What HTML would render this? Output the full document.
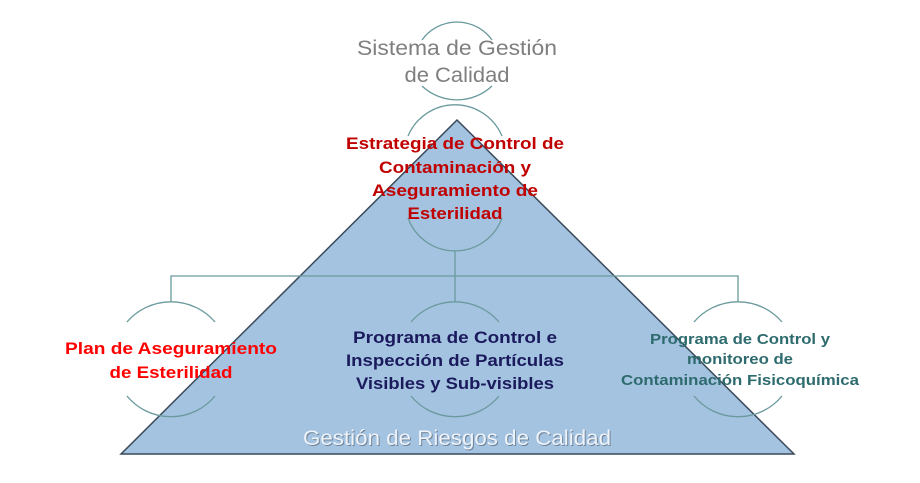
<!DOCTYPE html>
<html><head><meta charset="utf-8"><style>html,body{margin:0;padding:0;background:#fff}svg{display:block}</style></head><body>
<svg width="920" height="483" viewBox="0 0 920 483" xmlns="http://www.w3.org/2000/svg" font-family="'Liberation Sans', sans-serif">
<rect width="920" height="483" fill="#fff"/>
<polygon points="457,120 121,454 794,454" fill="#a4c3e1" stroke="#3a4a5a" stroke-width="1.5"/>
<g fill="none" stroke="#6a9a9c" stroke-width="1.3">
<path d="M422,40 A43,43 0 0 1 492,40"/><path d="M422,86 A51,51 0 0 0 492,86"/>
<path d="M408,136 A51,51 0 0 1 502,136"/><path d="M408,218 A50,50 0 0 0 502,218"/>
<path d="M127,322 A58,58 0 0 1 215,322"/><path d="M127,396 A57,57 0 0 0 215,396"/>
<path d="M411,322 A58,58 0 0 1 499,322"/><path d="M411,396 A57,57 0 0 0 499,396"/>
<path d="M694,322 A58,58 0 0 1 782,322"/><path d="M694,396 A57,57 0 0 0 782,396"/>
<path d="M455,251 V302 M171,302 V276 H738 V302"/>
</g>
<g text-anchor="middle">
<text x="457" y="55" font-size="21" fill="#7f7f7f" textLength="200" lengthAdjust="spacingAndGlyphs">Sistema de Gestión</text>
<text x="457" y="82" font-size="21" fill="#7f7f7f" textLength="105" lengthAdjust="spacingAndGlyphs">de Calidad</text>
<g font-size="17" font-weight="bold" fill="#c00000">
<text x="455" y="149" textLength="218" lengthAdjust="spacingAndGlyphs">Estrategia de Control de</text>
<text x="455" y="173" textLength="152" lengthAdjust="spacingAndGlyphs">Contaminación y</text>
<text x="455" y="196" textLength="166" lengthAdjust="spacingAndGlyphs">Aseguramiento de</text>
<text x="455" y="219" textLength="95" lengthAdjust="spacingAndGlyphs">Esterilidad</text>
</g>
<g font-size="17" font-weight="bold" fill="#ff0000">
<text x="171" y="354" textLength="212" lengthAdjust="spacingAndGlyphs">Plan de Aseguramiento</text>
<text x="171" y="378" textLength="123" lengthAdjust="spacingAndGlyphs">de Esterilidad</text>
</g>
<g font-size="17" font-weight="bold" fill="#1a1a5c">
<text x="455" y="343" textLength="204" lengthAdjust="spacingAndGlyphs">Programa de Control e</text>
<text x="455" y="366" textLength="218" lengthAdjust="spacingAndGlyphs">Inspección de Partículas</text>
<text x="455" y="389" textLength="198" lengthAdjust="spacingAndGlyphs">Visibles y Sub-visibles</text>
</g>
<g font-size="15" font-weight="bold" fill="#2e6b6e">
<text x="740" y="344" textLength="180" lengthAdjust="spacingAndGlyphs">Programa de Control y</text>
<text x="740" y="364" textLength="106" lengthAdjust="spacingAndGlyphs">monitoreo de</text>
<text x="740" y="385" textLength="238" lengthAdjust="spacingAndGlyphs">Contaminación Fisicoquímica</text>
</g>
<text x="458" y="446" font-size="21" fill="#6f8399" textLength="308" lengthAdjust="spacingAndGlyphs">Gestión de Riesgos de Calidad</text>
<text x="457" y="445" font-size="21" fill="#eef3f9" textLength="308" lengthAdjust="spacingAndGlyphs">Gestión de Riesgos de Calidad</text>
</g>
</svg>
</body></html>
